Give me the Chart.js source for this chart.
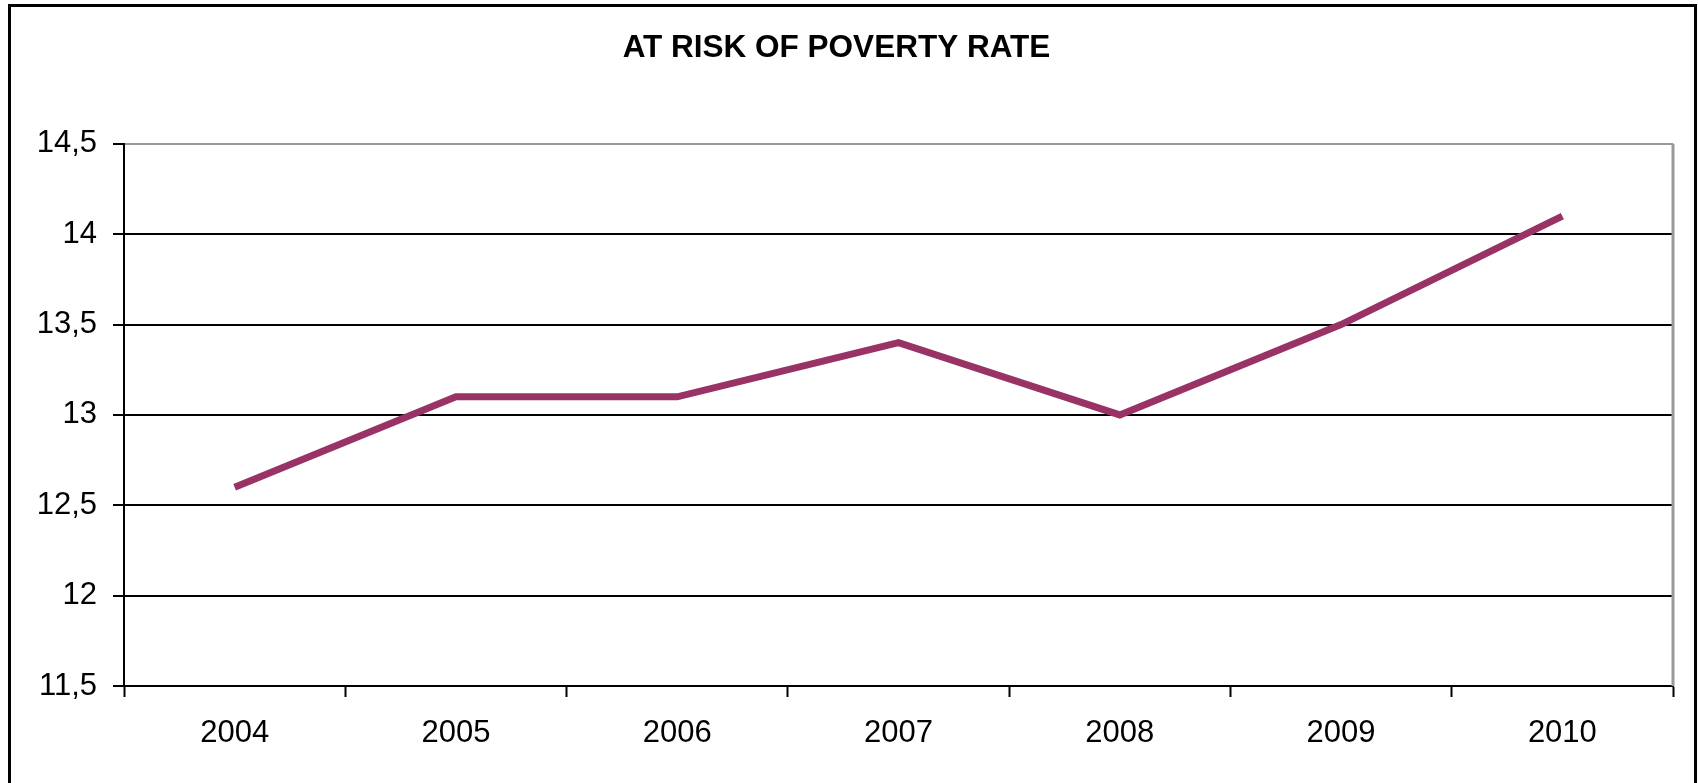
<!DOCTYPE html>
<html>
<head>
<meta charset="utf-8">
<title>At risk of poverty rate</title>
<script src="https://cdn.jsdelivr.net/npm/chart.js@4/dist/chart.umd.min.js"></script>
<style>
  html, body { margin: 0; padding: 0; background: #fff; overflow: hidden; }
  #wrap { position: relative; width: 1698px; height: 783px; }
  #frame {
    position: absolute; left: 8px; top: 4px; width: 1689px; height: 820px;
    box-sizing: border-box; border: 3px solid #000; pointer-events: none;
  }
  canvas { position: absolute; left: 0; top: 0; }
</style>
</head>
<body>
<div id="wrap">
  <canvas id="povertyChart" width="1698" height="783"></canvas>
  <div id="frame"></div>
</div>
<script>
// Chart data
const chartTitle = 'AT RISK OF POVERTY RATE';
const years = ['2004', '2005', '2006', '2007', '2008', '2009', '2010'];
const povertyRate = [12.6, 13.1, 13.1, 13.4, 13.0, 13.5, 14.1];
const yMin = 11.5;
const yMax = 14.5;
const yStep = 0.5;

// gray line on the right side of the plot area (Excel plot border)
const plotBorder = {
  id: 'plotBorder',
  beforeDatasetsDraw(chart) {
    const { ctx, chartArea } = chart;
    ctx.save();
    ctx.strokeStyle = '#999999';
    ctx.lineWidth = 3;
    ctx.beginPath();
    ctx.moveTo(chartArea.right, chartArea.top);
    ctx.lineTo(chartArea.right, chartArea.bottom);
    ctx.stroke();
    ctx.restore();
  }
};

const ctx = document.getElementById('povertyChart').getContext('2d');

new Chart(ctx, {
  type: 'line',
  data: {
    labels: years,
    datasets: [{
      label: 'At risk of poverty rate',
      data: povertyRate,
      borderColor: '#993366',
      backgroundColor: '#993366',
      borderWidth: 7,
      pointRadius: 0,
      tension: 0,
      fill: false
    }]
  },
  options: {
    responsive: false,
    animation: false,
    layout: { padding: { left: 0, right: 25, top: 0, bottom: 0 } },
    plugins: {
      legend: { display: false },
      tooltip: { enabled: false },
      title: {
        display: true,
        text: chartTitle,
        color: '#000',
        font: { family: 'Liberation Sans, Arial, sans-serif', size: 31.5, weight: 'bold' },
        padding: { top: 29, bottom: 77 }
      }
    },
    scales: {
      x: {
        offset: true,
        grid: {
          offset: true,
          drawOnChartArea: false,
          drawTicks: true,
          tickLength: 11,
          tickColor: '#000',
          tickWidth: 2
        },
        border: { color: '#000', width: 2 },
        ticks: {
          color: '#000',
          font: { family: 'Liberation Sans, Arial, sans-serif', size: 31 },
          padding: 18,
          maxRotation: 0
        },
        afterFit(scale) { scale.height = 97; }
      },
      y: {
        min: yMin,
        max: yMax,
        grid: {
          color: c => (c.tick && c.tick.value === yMax ? '#999999' : '#000'),
          lineWidth: 2,
          tickLength: 11,
          tickColor: '#000',
          tickWidth: 2
        },
        border: { color: '#000', width: 2 },
        ticks: {
          stepSize: yStep,
          color: '#000',
          font: { family: 'Liberation Sans, Arial, sans-serif', size: 31 },
          padding: 16,
          callback: v => String(v).replace('.', ',')
        },
        afterFit(scale) { scale.width = 124; }
      }
    }
  },
  plugins: [plotBorder]
});
</script>
</body>
</html>
